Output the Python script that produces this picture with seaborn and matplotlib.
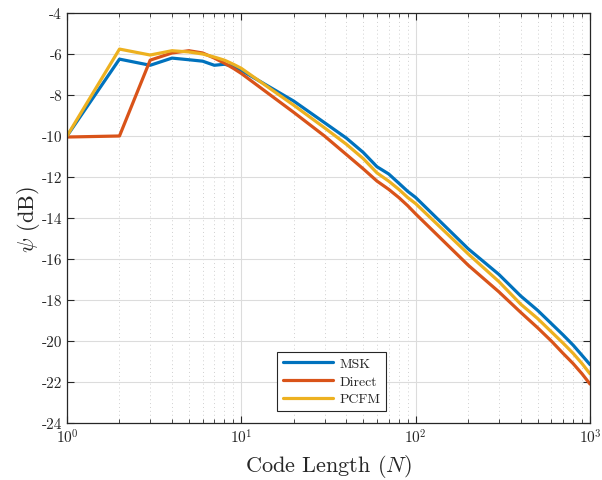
import numpy as np
import pandas as pd
import matplotlib
matplotlib.use("Agg")
import matplotlib.pyplot as plt
import seaborn as sns
from matplotlib.ticker import LogLocator, FixedLocator

N = [1, 2, 3, 4, 5, 6, 7, 8, 9, 10, 20, 30, 40, 50, 60, 70, 80, 90, 100,
     200, 300, 400, 500, 600, 700, 800, 900, 1000]
msk = [-10.0, -6.25, -6.55, -6.2, -6.28, -6.35, -6.55, -6.5, -6.6, -6.8,
       -8.3, -9.35, -10.1, -10.8, -11.5, -11.85, -12.3, -12.7, -13.0,
       -15.5, -16.75, -17.8, -18.5, -19.15, -19.7, -20.2, -20.7, -21.15]
direct = [-10.05, -10.0, -6.3, -5.95, -5.84, -5.95, -6.2, -6.45, -6.7, -6.95,
          -8.85, -10.0, -10.9, -11.6, -12.2, -12.6, -13.0, -13.4, -13.8,
          -16.3, -17.6, -18.6, -19.35, -20.0, -20.6, -21.1, -21.6, -22.1]
pcfm = [-10.0, -5.76, -6.05, -5.84, -5.9, -6.0, -6.15, -6.3, -6.5, -6.7,
        -8.5, -9.6, -10.4, -11.1, -11.8, -12.2, -12.6, -13.0, -13.3,
        -15.75, -17.1, -18.2, -18.9, -19.55, -20.1, -20.6, -21.1, -21.6]
series_names = ["MSK", "Direct", "PCFM"]
colors = ["#0072BD", "#D95319", "#EDB120"]
yticks = list(range(-24, -3, 2))

df = pd.DataFrame({
    "N": N * 3,
    "psi": msk + direct + pcfm,
    "Method": [series_names[0]] * len(N) + [series_names[1]] * len(N) + [series_names[2]] * len(N),
})

sns.set_style("white")
plt.rcParams["font.family"] = ["cmr10"]
plt.rcParams["mathtext.fontset"] = "cm"
plt.rcParams["axes.unicode_minus"] = False
plt.rcParams["axes.formatter.use_mathtext"] = True

fig = plt.figure(figsize=(6.02, 4.81), dpi=100)
ax = fig.add_axes([67 / 602, 1 - 424 / 481, (590 - 67) / 602, (424 - 14) / 481])

sns.lineplot(data=df, x="N", y="psi", hue="Method", hue_order=series_names,
             palette=colors, linewidth=2.3, ax=ax, legend=True)

ax.set_xscale("log")
ax.set_xlim(1, 1000)
ax.set_ylim(-24, -4)
ax.yaxis.set_major_locator(FixedLocator(yticks))
ax.set_yticklabels([str(v) for v in yticks])
ax.xaxis.set_major_locator(LogLocator(base=10, numticks=10))
ax.xaxis.set_minor_locator(LogLocator(base=10, subs=np.arange(2, 10), numticks=20))

ax.grid(which="major", color="#dcdcdc", linewidth=0.8, linestyle="-")
ax.grid(which="minor", axis="x", color="#d0d0d0", linewidth=0.7, linestyle=(0, (1, 3)))
ax.set_axisbelow(True)

for s in ax.spines.values():
    s.set_visible(True)
    s.set_color("#262626")
    s.set_linewidth(0.9)
ax.tick_params(which="both", direction="in", top=True, right=True, bottom=True, left=True,
               colors="#262626", labelsize=11)
ax.tick_params(which="major", length=5, width=0.8)
ax.tick_params(which="minor", length=3, width=0.6)
for lab in ax.get_xticklabels() + ax.get_yticklabels():
    lab.set_color("#262626")

ax.set_xlabel(r"Code Length ($N$)", fontsize=16, color="#262626")
ax.set_ylabel(r"$\psi$ (dB)", fontsize=16, color="#262626", labelpad=0)

leg = ax.legend(loc="lower left", bbox_to_anchor=(210 / 523, 12 / 410), fontsize=10,
                frameon=True, fancybox=False, edgecolor="#262626", framealpha=1,
                handlelength=3.6, borderpad=0.4, labelspacing=0.35, handletextpad=0.5,
                borderaxespad=0)
leg.get_frame().set_linewidth(0.8)

fig.savefig("out.png", dpi=100)
